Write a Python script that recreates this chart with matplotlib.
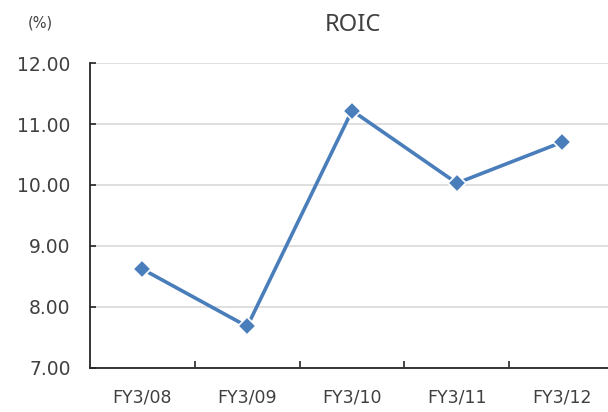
import matplotlib.pyplot as plt

years = ['FY3/08', 'FY3/09', 'FY3/10', 'FY3/11', 'FY3/12']
roic = [8.62, 7.68, 11.22, 10.03, 10.70]
yticks = [7, 8, 9, 10, 11, 12]

plt.rcParams['font.family'] = ['DejaVu Sans']
text_color = '#404040'
line_color = '#4a7ebb'

fig = plt.figure(figsize=(6.08, 4.12), dpi=100)
ax = fig.add_axes([0.148, 0.107, 0.862, 0.74])

x = range(len(years))
ax.plot(x, roic, color=line_color, lw=2.6, marker='D', ms=9,
        markerfacecolor=line_color, markeredgecolor='white', markeredgewidth=1.2,
        zorder=3, clip_on=False)

ax.set_xlim(-0.5, len(years) - 0.5)
ax.set_ylim(7, 12)
ax.set_yticks(yticks)
ax.set_yticklabels([f'{v:.2f}' for v in yticks])
ax.set_xticks(x)
ax.set_xticklabels(years)
ax.set_xticks([i + 0.5 for i in range(len(years) - 1)], minor=True)

ax.grid(axis='y', color='#d9d9d9', lw=1.2)
ax.set_axisbelow(True)
for s in ['top', 'right']:
    ax.spines[s].set_visible(False)
for s in ['left', 'bottom']:
    ax.spines[s].set_color('#262626')
    ax.spines[s].set_linewidth(1.3)

ax.tick_params(axis='x', which='major', length=0, pad=15, labelsize=12.5, labelcolor=text_color)
ax.tick_params(axis='x', which='minor', direction='in', length=5, color='#262626', width=1.2)
ax.tick_params(axis='y', direction='in', length=4, width=1.2, color='#262626',
               pad=14, labelsize=13.5, labelcolor=text_color)

fig.text(0.581, 0.94, 'ROIC', ha='center', va='center', fontsize=17,
         family='Noto Sans', color=text_color)
fig.text(0.066, 0.945, '(%)', ha='center', va='center', fontsize=10.5, color=text_color)

fig.savefig('out.png', dpi=100)
